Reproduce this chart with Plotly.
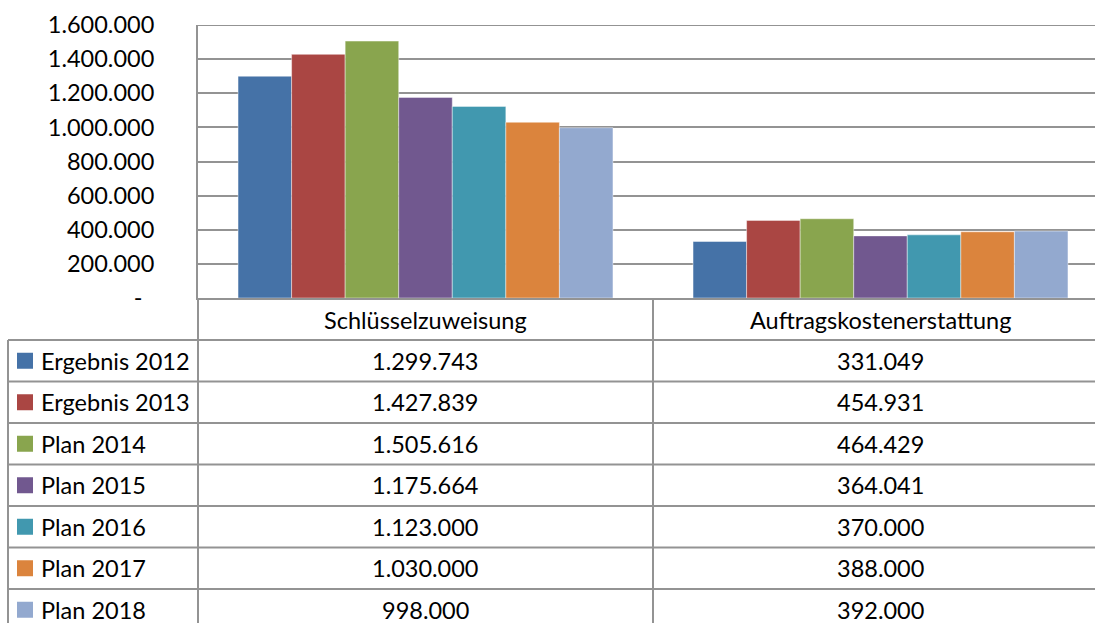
import plotly.graph_objects as go

# Categories and series
categories = ["Schlüsselzuweisung", "Auftragskostenerstattung"]
series_names = ["Ergebnis 2012", "Ergebnis 2013", "Plan 2014", "Plan 2015",
                "Plan 2016", "Plan 2017", "Plan 2018"]
schluessel = [1299743, 1427839, 1505616, 1175664, 1123000, 1030000, 998000]
auftrag = [331049, 454931, 464429, 364041, 370000, 388000, 392000]
colors = ["#4572A7", "#AA4643", "#89A54E", "#71588F", "#4198AF", "#DB843D", "#93A9CF"]
y_ticks = [0, 200000, 400000, 600000, 800000, 1000000, 1200000, 1400000, 1600000]


def de_num(v):
    return f"{v:,}".replace(",", ".")


y_ticktext = ["-\u2002" if v == 0 else de_num(v) for v in y_ticks]

# Page geometry (pixels)
W, H = 1095, 623
L, T, B_PIX = 198, 25, 298          # plot area left, top, bottom edge
PLOT_W, PLOT_H = W - L, B_PIX - T
CAT_W = 455                          # pixels per category
ROW_H = 41.5
TABLE_TOP = 340
TABLE_LEFT = 8
FONT = "Lato"
FS = 23.5
GRID = "#939393"


def py(p):  # pixel y -> paper y
    return (B_PIX - p) / PLOT_H


def px(p):  # pixel x -> paper x
    return (p - L) / PLOT_W


fig = go.Figure()
for i, name in enumerate(series_names):
    fig.add_trace(go.Bar(
        x=[0, 1], y=[schluessel[i], auftrag[i]], name=name,
        marker=dict(color=colors[i], line=dict(color="rgba(255,255,255,0.55)", width=0.8)),
        showlegend=False,
    ))

shapes = []
annotations = []

# top gridline at the highest tick
shapes.append(dict(type="line", xref="paper", yref="y", x0=0, x1=1,
                   y0=y_ticks[-1], y1=y_ticks[-1], line=dict(color=GRID, width=2)))

# vertical lines through the table area
shapes.append(dict(type="line", xref="paper", yref="paper", x0=0, x1=0,
                   y0=py(B_PIX), y1=py(H + 5), line=dict(color=GRID, width=2)))
shapes.append(dict(type="line", xref="x", yref="paper", x0=0.5, x1=0.5,
                   y0=py(B_PIX), y1=py(H + 5), line=dict(color=GRID, width=2)))
shapes.append(dict(type="line", xref="paper", yref="paper", x0=px(TABLE_LEFT), x1=px(TABLE_LEFT),
                   y0=py(TABLE_TOP), y1=py(H + 5), line=dict(color=GRID, width=2)))

# horizontal table lines
for k in range(len(series_names)):
    yy = TABLE_TOP + ROW_H * k
    shapes.append(dict(type="line", xref="paper", yref="paper", x0=px(TABLE_LEFT), x1=1,
                       y0=py(yy), y1=py(yy), line=dict(color=GRID, width=2)))

# category header row
for ci, cat in enumerate(categories):
    annotations.append(dict(x=ci, y=py(TABLE_TOP - ROW_H / 2 + 0.5), xref="x", yref="paper",
                            text=cat, showarrow=False, xanchor="center", yanchor="middle",
                            font=dict(family=FONT, size=FS, color="#000")))

# data rows with legend keys
for i, name in enumerate(series_names):
    yc = TABLE_TOP + ROW_H * (i + 0.5)
    shapes.append(dict(type="rect", xref="paper", yref="paper",
                       x0=px(17), x1=px(33), y0=py(yc - 8), y1=py(yc + 8),
                       fillcolor=colors[i], line=dict(width=0)))
    annotations.append(dict(x=px(39), y=py(yc), xref="paper", yref="paper", text=name,
                            showarrow=False, xanchor="left", yanchor="middle",
                            font=dict(family=FONT, size=FS, color="#000")))
    for ci, vals in enumerate([schluessel, auftrag]):
        annotations.append(dict(x=ci, y=py(yc), xref="x", yref="paper", text=de_num(vals[i]),
                                showarrow=False, xanchor="center", yanchor="middle",
                                font=dict(family=FONT, size=FS, color="#000")))

fig.update_layout(
    width=W, height=H,
    margin=dict(l=L, r=0, t=T, b=H - B_PIX, pad=0),
    paper_bgcolor="white", plot_bgcolor="white",
    barmode="group", bargap=0.176, bargroupgap=0,
    font=dict(family=FONT, size=FS, color="#000"),
    xaxis=dict(range=[-0.5, -0.5 + PLOT_W / CAT_W], showticklabels=False, showgrid=False,
               zeroline=False, showline=True, linecolor=GRID, linewidth=2, ticks=""),
    yaxis=dict(range=[0, 1600000], tickvals=y_ticks, ticktext=y_ticktext,
               showgrid=True, gridcolor=GRID, gridwidth=2, zeroline=False,
               showline=True, linecolor=GRID, linewidth=2, ticks="",
               ticklabelstandoff=37, tickfont=dict(family=FONT, size=FS, color="#000")),
    shapes=shapes, annotations=annotations,
)

fig.write_html("out.html")
